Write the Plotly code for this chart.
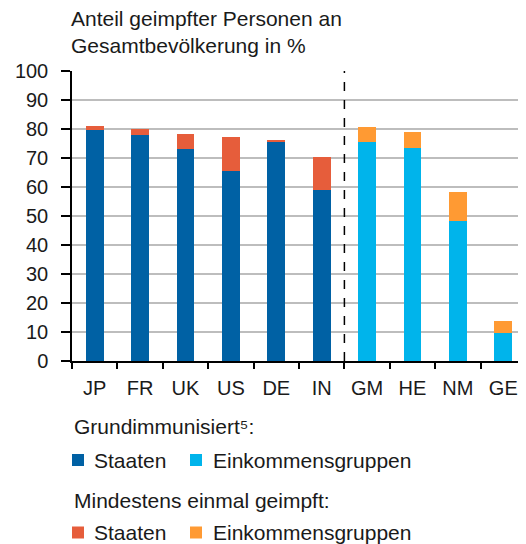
import plotly.graph_objects as go

categories = ["JP", "FR", "UK", "US", "DE", "IN", "GM", "HE", "NM", "GE"]
states = ["JP", "FR", "UK", "US", "DE", "IN"]
groups = ["GM", "HE", "NM", "GE"]

# Grundimmunisiert (fully vaccinated), %
full_states = [79.8, 77.8, 73.2, 65.6, 75.6, 59.1]
full_groups = [75.6, 73.6, 48.2, 9.8]
# Mindestens einmal geimpft (at least one dose), %
once_states = [81.1, 80.0, 78.4, 77.2, 76.3, 70.2]
once_groups = [80.6, 78.9, 58.4, 13.9]

extra_states = [o - f for o, f in zip(once_states, full_states)]
extra_groups = [o - f for o, f in zip(once_groups, full_groups)]

yticks = list(range(0, 101, 10))
legend_labels = ["Staaten", "Einkommensgruppen"]

C_DARK = "#0061A4"
C_LIGHT = "#00B4EB"
C_RED = "#E65D3B"
C_ORANGE = "#FF9A33"
TXT = "#1a1a1a"

FONT = "Liberation Sans, Arial, sans-serif"

fig = go.Figure()
W = 0.39
fig.add_bar(x=states, y=full_states, name="Grundimmunisiert – Staaten",
            marker_color=C_DARK, width=W, marker_line_width=0)
fig.add_bar(x=groups, y=full_groups, name="Grundimmunisiert – Einkommensgruppen",
            marker_color=C_LIGHT, width=W, marker_line_width=0)
fig.add_bar(x=states, y=extra_states, name="Mindestens einmal – Staaten",
            marker_color=C_RED, width=W, marker_line_width=0)
fig.add_bar(x=groups, y=extra_groups, name="Mindestens einmal – Einkommensgruppen",
            marker_color=C_ORANGE, width=W, marker_line_width=0)

# dashed separator between states and income groups
fig.add_shape(type="line", xref="x", yref="y", x0=5.5, x1=5.5, y0=0, y1=100,
              line=dict(color="black", width=1.5, dash="dash"))

# chart title
fig.add_annotation(text="Anteil geimpfter Personen an<br>Gesamtbevölkerung in %",
                   xref="paper", yref="paper", x=-0.006, y=1.133,
                   xanchor="left", yanchor="middle", align="left", showarrow=False,
                   font=dict(size=21, color=TXT, family=FONT))

# custom legend (two titled groups)
PW, PH = 454.0, 290.0  # plot area size in px


def px_x(v):
    return v / PW


def px_y(v):
    return -v / PH


legend_rows = [
    ("Grundimmunisiert⁵:", 65.5, 99, [C_DARK, C_LIGHT]),
    ("Mindestens einmal geimpft:", 139.5, 171.5, [C_RED, C_ORANGE]),
]
for header, head_dy, item_dy, colors in legend_rows:
    fig.add_annotation(text=header, xref="paper", yref="paper",
                       x=0.0, y=px_y(head_dy), xanchor="left", yanchor="middle",
                       align="left", showarrow=False,
                       font=dict(size=21, color=TXT, family=FONT))
    for (sq_x, tx_x), label, col in zip([(0, 20), (118, 139)], legend_labels, colors):
        fig.add_shape(type="rect", xref="paper", yref="paper",
                      x0=px_x(sq_x), x1=px_x(sq_x + 12),
                      y0=px_y(item_dy + 6), y1=px_y(item_dy - 6),
                      fillcolor=col, line_width=0)
        fig.add_annotation(text=label, xref="paper", yref="paper",
                           x=px_x(tx_x), y=px_y(item_dy), xanchor="left",
                           yanchor="middle", showarrow=False,
                           font=dict(size=21, color=TXT, family=FONT))

fig.update_layout(
    width=518, height=536,
    margin=dict(l=64, r=0, t=63, b=183),
    barmode="stack",
    plot_bgcolor="white", paper_bgcolor="white",
    font=dict(family=FONT, size=21, color=TXT),
    showlegend=False,
    xaxis=dict(categoryorder="array", categoryarray=categories,
               showline=True, linecolor="black", linewidth=1.5,
               ticks="outside", tickson="boundaries", ticklen=6, tickwidth=1.5,
               tickcolor="black", showgrid=False, tickfont=dict(size=20),
               ticklabelstandoff=8, range=[-0.5, 9.5]),
    yaxis=dict(range=[0, 100], tickvals=yticks, showline=True, linecolor="black",
               linewidth=1.5, ticks="outside", ticklen=9, tickwidth=1.5,
               tickcolor="black", showgrid=True, gridcolor="#bdbdbd", gridwidth=1.5,
               tickfont=dict(size=20), ticklabelstandoff=9, zeroline=False),
)

fig.write_html("out.html")
